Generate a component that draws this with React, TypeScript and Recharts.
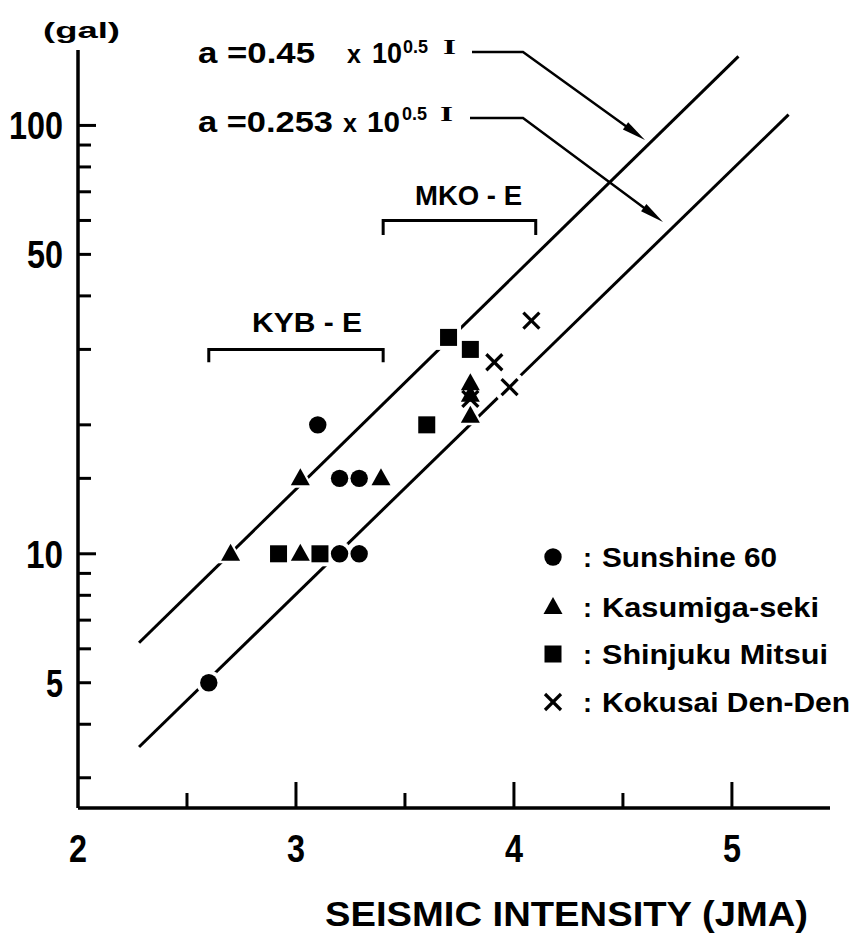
import React from 'react';
import { ScatterChart, Scatter, XAxis, YAxis } from 'recharts';

// ---- data ----
const sunshine60 = [
  { x: 3.1, y: 20 }, { x: 3.2, y: 15 }, { x: 3.29, y: 15 },
  { x: 3.2, y: 10 }, { x: 3.29, y: 10 }, { x: 2.6, y: 5 },
];
const kasumigaseki = [
  { x: 2.7, y: 10 }, { x: 3.02, y: 10 }, { x: 3.02, y: 15 }, { x: 3.39, y: 15 },
  { x: 3.8, y: 25 }, { x: 3.8, y: 23.5 }, { x: 3.8, y: 21 },
];
const shinjukuMitsui = [
  { x: 2.92, y: 10 }, { x: 3.11, y: 10 }, { x: 3.6, y: 20 }, { x: 3.7, y: 32 }, { x: 3.8, y: 30 },
];
const kokusaiDenDen = [
  { x: 4.08, y: 35 }, { x: 3.91, y: 28 }, { x: 3.98, y: 24.5 }, { x: 3.8, y: 23 },
];
// a = 0.45 x 10^0.5I  (end points)
const upperLine = [{ x: 2.28, y: 6.2 }, { x: 5.03, y: 145 }];
// a = 0.253 x 10^0.5I
const lowerLine = [{ x: 2.28, y: 3.54 }, { x: 5.26, y: 106 }];
const kybBracket = [{ x: 2.6, y: 28 }, { x: 2.6, y: 30 }, { x: 3.4, y: 30 }, { x: 3.4, y: 28 }];
const mkoBracket = [{ x: 3.4, y: 55.5 }, { x: 3.4, y: 60 }, { x: 4.1, y: 60 }, { x: 4.1, y: 55.5 }];

const xTicks = [2, 2.5, 3, 3.5, 4, 4.5, 5];
const xTickLabels: Record<string, string> = { '2': '2', '3': '3', '4': '4', '5': '5' };
const yTicks = [3, 4, 5, 6, 7, 8, 9, 10, 15, 20, 30, 40, 50, 60, 70, 80, 90, 100];
const yTickLabels: Record<string, string> = { '5': '5', '10': '10', '50': '50', '100': '100' };

const legendItems = ['Sunshine 60', 'Kasumiga-seki', 'Shinjuku Mitsui', 'Kokusai Den-Den'];

const NARROW = "'Liberation Sans Narrow', 'Liberation Sans', Arial, sans-serif";
const SANS = "'Liberation Sans', Arial, sans-serif";
const SERIF = "'Liberation Serif', 'Times New Roman', serif";

// ---- marker shapes ----
const dot = (halo: boolean) => (p: any) => (
  <circle cx={p.cx} cy={p.cy} r={halo ? 12.5 : 8.7} fill={halo ? '#fff' : '#000'} />
);
const tri = (halo: boolean) => (p: any) => {
  const s = halo ? 4 : 0;
  const { cx, cy } = p;
  return (
    <polygon
      points={`${cx},${cy - 10 - s} ${cx - 9.5 - s},${cy + 7 + s * 0.6} ${cx + 9.5 + s},${cy + 7 + s * 0.6}`}
      fill={halo ? '#fff' : '#000'}
    />
  );
};
const sq = (halo: boolean) => (p: any) => {
  const h = halo ? 12.5 : 8.5;
  return <rect x={p.cx - h} y={p.cy - h} width={2 * h} height={2 * h} fill={halo ? '#fff' : '#000'} />;
};
const cross = (halo: boolean) => (p: any) => {
  const d = 8;
  const sw = halo ? 10 : 3.2;
  const c = halo ? '#fff' : '#000';
  return (
    <g>
      <line x1={p.cx - d} y1={p.cy - d} x2={p.cx + d} y2={p.cy + d} stroke={c} strokeWidth={sw} strokeLinecap={halo ? 'round' : 'butt'} />
      <line x1={p.cx - d} y1={p.cy + d} x2={p.cx + d} y2={p.cy - d} stroke={c} strokeWidth={sw} strokeLinecap={halo ? 'round' : 'butt'} />
    </g>
  );
};
const noShape = () => <g />;

const yLabelWidth: Record<string, number> = { '5': 17, '10': 37, '50': 36, '100': 54 };

// ---- ticks ----
const YTick = (props: any) => {
  const { x, y, payload } = props;
  const v = payload.value;
  const major = v === 10 || v === 100;
  const len = major ? 18 : 13;
  const label = yTickLabels[String(v)];
  return (
    <g>
      <line x1={x} x2={x + len} y1={y} y2={y} stroke="#000" strokeWidth={3} />
      {label && (
        <text
          x={x - 15 - yLabelWidth[label]}
          y={y + 14}
          fontFamily={NARROW}
          fontWeight="bold"
          fontSize={38}
          fill="#000"
          textLength={yLabelWidth[label]}
          lengthAdjust="spacingAndGlyphs"
        >
          {label}
        </text>
      )}
    </g>
  );
};

const XTick = (props: any) => {
  const { x, y, payload } = props;
  const v = payload.value;
  const label = xTickLabels[String(v)];
  const major = Number.isInteger(v);
  const len = major ? 26 : 15;
  return (
    <g>
      {v !== 2 && <line x1={x} x2={x} y1={y} y2={y - len} stroke="#000" strokeWidth={3} />}
      {label && (
        <text
          x={x - 9}
          y={y + 54}
          fontFamily={NARROW}
          fontWeight="bold"
          fontSize={38}
          fill="#000"
          textLength={18}
          lengthAdjust="spacingAndGlyphs"
        >
          {label}
        </text>
      )}
    </g>
  );
};

const Arrow = ({ pts, tip }: { pts: number[][]; tip: number[] }) => {
  const prev = pts[pts.length - 1];
  const dx = tip[0] - prev[0];
  const dy = tip[1] - prev[1];
  const L = Math.hypot(dx, dy);
  const ux = dx / L, uy = dy / L;
  const hl = 24, hw = 4.5;
  const bx = tip[0] - ux * hl, by = tip[1] - uy * hl;
  const all = [...pts, [bx + ux * 4, by + uy * 4]];
  return (
    <g>
      <polyline points={all.map((p) => p.join(',')).join(' ')} fill="none" stroke="#000" strokeWidth={2.4} />
      <polygon
        points={`${tip[0]},${tip[1]} ${bx - uy * hw},${by + ux * hw} ${bx + uy * hw},${by - ux * hw}`}
        fill="#000"
      />
    </g>
  );
};

const legendMarker = (i: number, cx: number, cy: number) => {
  if (i === 0) return dot(false)({ cx, cy });
  if (i === 1) return tri(false)({ cx, cy });
  if (i === 2) return sq(false)({ cx, cy });
  return cross(false)({ cx, cy });
};

export default function App() {
  const legendY = [567, 617, 664, 712];
  const legendLen = [175, 217, 226, 248];
  return (
    <div style={{ position: 'absolute', left: 0, top: 0, width: 851, height: 934, background: '#fff' }}>
      <ScatterChart width={851} height={934} margin={{ top: 50, right: 21, left: 0, bottom: 0 }}>
        <XAxis
          type="number"
          dataKey="x"
          domain={[2, 5.45]}
          allowDataOverflow
          ticks={xTicks}
          interval={0}
          height={126}
          axisLine={{ stroke: '#000', strokeWidth: 3.5 }}
          tickLine={false}
          tickSize={0}
          tickMargin={0}
          tick={<XTick />}
        />
        <YAxis
          type="number"
          dataKey="y"
          scale="log"
          domain={[2.55, 150]}
          allowDataOverflow
          ticks={yTicks}
          interval={0}
          width={78}
          axisLine={{ stroke: '#000', strokeWidth: 3.5 }}
          tickLine={false}
          tickSize={0}
          tickMargin={0}
          tick={<YTick />}
        />
        <Scatter data={upperLine} line={{ stroke: '#000', strokeWidth: 3 }} lineType="joint" shape={noShape} isAnimationActive={false} />
        <Scatter data={lowerLine} line={{ stroke: '#000', strokeWidth: 3 }} lineType="joint" shape={noShape} isAnimationActive={false} />
        <Scatter data={kybBracket} line={{ stroke: '#000', strokeWidth: 3 }} lineType="joint" shape={noShape} isAnimationActive={false} />
        <Scatter data={mkoBracket} line={{ stroke: '#000', strokeWidth: 3 }} lineType="joint" shape={noShape} isAnimationActive={false} />
        {/* white halos so the lines break around the markers */}
        <Scatter data={sunshine60} shape={dot(true)} isAnimationActive={false} />
        <Scatter data={kasumigaseki} shape={tri(true)} isAnimationActive={false} />
        <Scatter data={shinjukuMitsui} shape={sq(true)} isAnimationActive={false} />
        <Scatter data={kokusaiDenDen} shape={cross(true)} isAnimationActive={false} />
        {/* markers */}
        <Scatter name="Sunshine 60" data={sunshine60} shape={dot(false)} isAnimationActive={false} />
        <Scatter name="Kasumiga-seki" data={kasumigaseki} shape={tri(false)} isAnimationActive={false} />
        <Scatter name="Shinjuku Mitsui" data={shinjukuMitsui} shape={sq(false)} isAnimationActive={false} />
        <Scatter name="Kokusai Den-Den" data={kokusaiDenDen} shape={cross(false)} isAnimationActive={false} />
      </ScatterChart>

      <svg width={851} height={934} style={{ position: 'absolute', left: 0, top: 0, pointerEvents: 'none' }}>
        {/* unit */}
        <text x={43} y={38} fontFamily={SANS} fontWeight="bold" fontSize={22} textLength={77} lengthAdjust="spacingAndGlyphs">(gal)</text>

        {/* formula annotations */}
        <g fontFamily={SANS} fontWeight="bold" fill="#000">
          <text x={198} y={63} fontSize={29} textLength={117} lengthAdjust="spacingAndGlyphs">a =0.45</text>
          <text x={347} y={63} fontSize={25}>x</text>
          <text x={372} y={63} fontSize={29} textLength={30} lengthAdjust="spacingAndGlyphs">10</text>
          <text x={403} y={53} fontSize={18} textLength={25} lengthAdjust="spacingAndGlyphs">0.5</text>
          <text x={443} y={54} fontSize={22} fontFamily={SERIF} textLength={13} lengthAdjust="spacingAndGlyphs">I</text>

          <text x={198} y={132} fontSize={29} textLength={135} lengthAdjust="spacingAndGlyphs">a =0.253</text>
          <text x={343} y={132} fontSize={25}>x</text>
          <text x={367} y={132} fontSize={29} textLength={33} lengthAdjust="spacingAndGlyphs">10</text>
          <text x={402} y={120} fontSize={18} textLength={25} lengthAdjust="spacingAndGlyphs">0.5</text>
          <text x={440} y={121} fontSize={22} fontFamily={SERIF} textLength={13} lengthAdjust="spacingAndGlyphs">I</text>
        </g>
        <Arrow pts={[[472, 52], [523, 52]]} tip={[645, 140]} />
        <Arrow pts={[[470, 118], [523, 118]]} tip={[663, 222]} />

        {/* bracket labels */}
        <text x={252} y={332} fontFamily={SANS} fontWeight="bold" fontSize={27} textLength={110} lengthAdjust="spacingAndGlyphs">KYB - E</text>
        <text x={415} y={205} fontFamily={SANS} fontWeight="bold" fontSize={27} textLength={107} lengthAdjust="spacingAndGlyphs">MKO - E</text>

        {/* legend */}
        {legendItems.map((name, i) => (
          <g key={name}>
            {legendMarker(i, 553, legendY[i] - 10)}
            <text x={583} y={legendY[i]} fontFamily={SANS} fontWeight="bold" fontSize={27}>:</text>
            <text x={602} y={legendY[i]} fontFamily={SANS} fontWeight="bold" fontSize={27} textLength={legendLen[i]} lengthAdjust="spacingAndGlyphs">
              {name}
            </text>
          </g>
        ))}

        {/* x-axis title */}
        <text x={325} y={926} fontFamily={NARROW} fontWeight="bold" fontSize={35} textLength={483} lengthAdjust="spacingAndGlyphs">
          SEISMIC INTENSITY  (JMA)
        </text>
      </svg>
    </div>
  );
}
